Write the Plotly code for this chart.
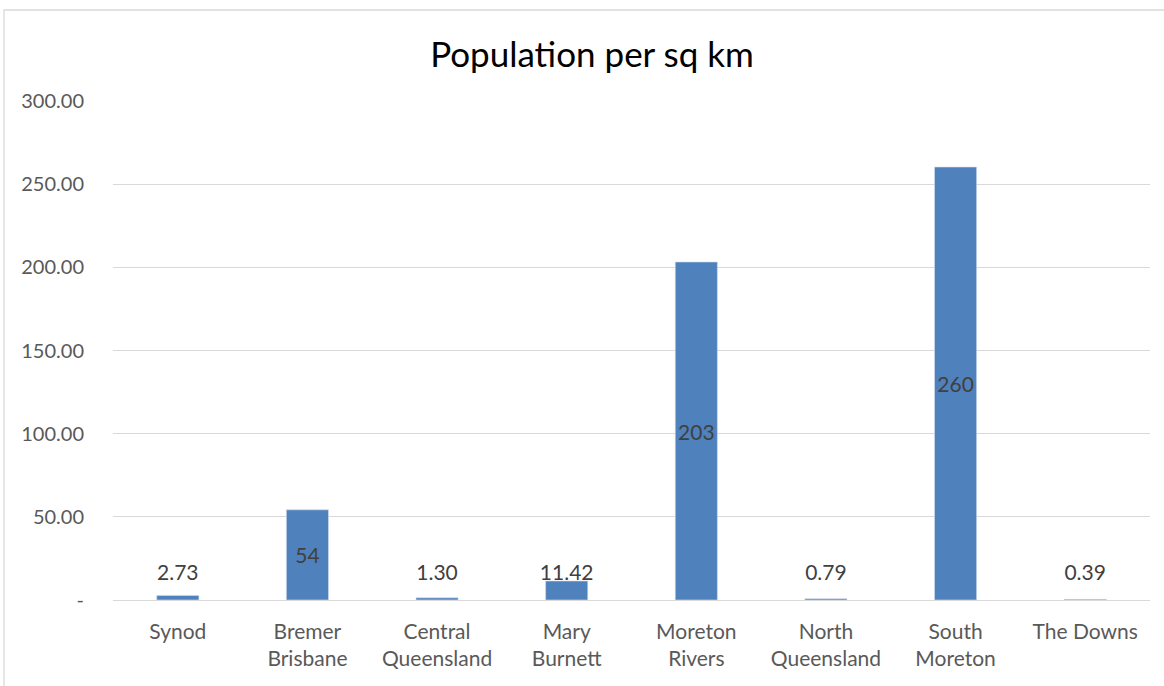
import plotly.graph_objects as go

categories = ["Synod", "Bremer<br>Brisbane", "Central<br>Queensland", "Mary<br>Burnett",
              "Moreton<br>Rivers", "North<br>Queensland", "South<br>Moreton", "The Downs"]
values = [2.73, 54.2, 1.30, 11.42, 203.2, 0.79, 260.3, 0.39]
tick_vals = [0, 50, 100, 150, 200, 250, 300]
tick_text = ["-", "50.00", "100.00", "150.00", "200.00", "250.00", "300.00"]

W, H = 1164, 686
FONT = "Lato, 'Liberation Sans', sans-serif"
big = [v >= 50 for v in values]

fig = go.Figure()
fig.add_trace(go.Bar(
    x=categories, y=values, width=0.325,
    marker=dict(color="#4F81BD", line=dict(color="#D0DDF0", width=0.6)),
    text=[f"{v:.0f}" if b else "" for v, b in zip(values, big)],
    textposition="inside", insidetextanchor="middle", textangle=0,
    textfont=dict(family=FONT, size=21, color="#404040"),
    constraintext="none", hoverinfo="x+y",
))
small_cats = [c for c, b in zip(categories, big) if not b]
small_vals = [v for v, b in zip(values, big) if not b]
fig.add_trace(go.Scatter(
    x=small_cats, y=[15] * len(small_cats), mode="text",
    text=[f"{v:.2f}" for v in small_vals], textposition="middle center",
    textfont=dict(family=FONT, size=21, color="#404040"), hoverinfo="skip",
))

fig.update_layout(
    width=W, height=H, showlegend=False,
    paper_bgcolor="white", plot_bgcolor="white",
    margin=dict(l=113, r=14, t=101, b=86),
    title=dict(text="Population per sq km", x=592 / W, xanchor="center",
               y=1 - 55 / H, yanchor="middle",
               font=dict(family=FONT, size=35, color="#000000")),
    xaxis=dict(showgrid=False, showline=False, ticks="", ticklabelstandoff=17,
               tickfont=dict(family=FONT, size=21, color="#595959")),
    yaxis=dict(range=[0, 300], tickvals=tick_vals, ticktext=tick_text,
               showgrid=True, gridcolor="#D9D9D9", gridwidth=1.3,
               zeroline=True, zerolinecolor="#D9D9D9", zerolinewidth=1.3,
               showline=False, ticks="", ticklabelstandoff=28,
               tickfont=dict(family=FONT, size=20, color="#595959")),
    shapes=[dict(type="rect", xref="paper", yref="paper",
                 x0=(4 - 113) / (W - 127), x1=(1200 - 113) / (W - 127),
                 y0=(600 - 720) / 499, y1=(600 - 10) / 499,
                 line=dict(color="#D9D9D9", width=1.3), fillcolor="rgba(0,0,0,0)")],
)
fig.write_html("out.html", config={"displayModeBar": False},
               post_script="document.body.style.margin='0';")
